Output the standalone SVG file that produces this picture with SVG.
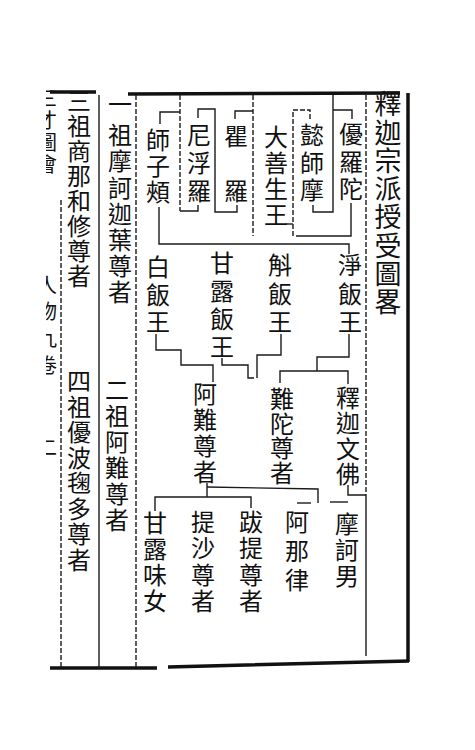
<svg xmlns="http://www.w3.org/2000/svg" width="475" height="750" viewBox="0 0 475 750">
<style>
text{font-family:"Noto Sans CJK TC","Noto Sans CJK SC",sans-serif;fill:#111;writing-mode:vertical-rl;text-anchor:start}
.n{font-size:24px}
.ttl{font-size:27px}
.m{font-size:20px}
.c{fill:none;stroke:#1a1a1a;stroke-width:1.4}
.d{stroke-dasharray:5 2}
.f{fill:none;stroke:#111;stroke-width:3.5}
</style>
<defs>
<clipPath id="fold"><rect x="46" y="80" width="14" height="600"/></clipPath>
</defs>
<rect width="475" height="750" fill="#fff"/>
<g id="frame">
<path class="f" d="M50,92 L96,92 M128,94 L400,93"/>
<path class="f" d="M408,93 L408,662"/>
<path class="f" d="M50,668 L157,668 M168,667 L409,661"/>
<path class="c d" d="M61,200 L61,668"/>
<path class="c" d="M99,95 L99,668"/>
<path class="c d" d="M136,95 L136,668"/>
<path class="c d" d="M366,95 L366,495"/>
<path class="c" d="M366,495 L366,656"/>
</g>
<g id="margin" clip-path="url(#fold)">
<text class="m" x="47" y="88" letter-spacing="2">三才圖會</text>
<text class="m" x="47" y="275" letter-spacing="6.7">人物九卷</text>
<text class="m" x="47" y="437">二</text>
</g>
<g id="connectors">
<path class="c" d="M352,119 L352,110 L333,110 M333,95 L333,212 L313,212 L313,205"/>
<path class="c d" d="M310,119 L310,110 L293,110 L293,236"/>
<path class="c" d="M293,224 L286,224"/>
<path class="c" d="M351,203 L351,236 L296,236"/>
<path class="c" d="M235,119 L235,111 L253,111"/>
<path class="c d" d="M253,95 L253,236"/>
<path class="c" d="M198,118 L198,109 L215,109 L215,212 L237,212 L237,205"/>
<path class="c" d="M198,205 L198,211 L180,211"/>
<path class="c d" d="M180,95 L180,211"/>
<path class="c" d="M160,124 L160,112 L180,112"/>
<path class="c" d="M159,207 L159,244 L349,244 L349,254"/>
<path class="c" d="M349,334 L349,357 L317,357 L317,371"/>
<path class="c" d="M280,383 L280,371 L348,371 L348,384"/>
<path class="c" d="M281,334 L281,355 L257,355 L257,378"/>
<path class="c" d="M222,358 L222,365 L248,365 L248,378 L254,378"/>
<path class="c" d="M156,334 L156,350 L181,350 L181,365 L213,365 L213,382"/>
<path class="c" d="M348,485 L348,495 L366,495"/>
<path class="c" d="M207,483 L207,497 M155,511 L155,497 L251,497 L251,508"/>
<path class="c" d="M207,487 L318,489 L318,503"/>
<path class="c" d="M297,503 L311,503"/>
<path class="c" d="M330,502 L348,502"/>
</g>
<g id="title">
<text class="ttl" x="388" y="90.5" letter-spacing="1.3">釋迦宗派授受圖畧</text>
</g>
<g id="n-youluotuo"><text class="n" x="351" y="122" letter-spacing="3.5">優羅陀</text></g>
<g id="n-yishimo"><text class="n" x="312" y="123" letter-spacing="3.5">懿師摩</text></g>
<g id="n-dashansheng"><text class="n" x="276" y="125" letter-spacing="2">大善生王</text></g>
<g id="n-quluo"><text class="n" x="236" y="124">瞿</text><text class="n" x="236" y="179">羅</text></g>
<g id="n-nifuluo"><text class="n" x="199" y="123" letter-spacing="4">尼浮羅</text></g>
<g id="n-shizijia"><text class="n" x="158" y="128" letter-spacing="2">師子頰</text></g>
<g id="n-jingfan"><text class="n" x="350" y="253" letter-spacing="4.5">淨飯王</text></g>
<g id="n-hufan"><text class="n" x="280" y="253" letter-spacing="4.5">斛飯王</text></g>
<g id="n-ganlufan"><text class="n" x="222" y="251" letter-spacing="4">甘露飯王</text></g>
<g id="n-baifan"><text class="n" x="158" y="255" letter-spacing="3.5">白飯王</text></g>
<g id="n-shijia"><text class="n" x="348" y="386" letter-spacing="1.3">釋迦文佛</text></g>
<g id="n-nantuo"><text class="n" x="282" y="387" letter-spacing="0.5">難陀尊者</text></g>
<g id="n-anan"><text class="n" x="205" y="382" letter-spacing="2">阿難尊者</text></g>
<g id="n-ganluwei"><text class="n" x="155" y="511" letter-spacing="2">甘露味女</text></g>
<g id="n-tisha"><text class="n" x="203" y="510" letter-spacing="2.3">提沙尊者</text></g>
<g id="n-bati"><text class="n" x="251" y="510" letter-spacing="2.3">跋提尊者</text></g>
<g id="n-analu"><text class="n" x="297" y="510" letter-spacing="5">阿那律</text></g>
<g id="n-mohenan"><text class="n" x="347" y="512" letter-spacing="2">摩訶男</text></g>
<g id="n-zu1"><text class="n" x="120" y="92">一</text><text class="n" x="120" y="123" letter-spacing="2.2">祖摩訶迦葉尊者</text></g>
<g id="n-zu2"><text class="n" x="117" y="378" letter-spacing="2">二祖阿難尊者</text></g>
<g id="n-zu3"><text class="n" x="79" y="89" letter-spacing="1">三祖商那和修尊者</text></g>
<g id="n-zu4"><text class="n" x="79" y="369" letter-spacing="1.5">四祖優波毱多尊者</text></g>
</svg>
